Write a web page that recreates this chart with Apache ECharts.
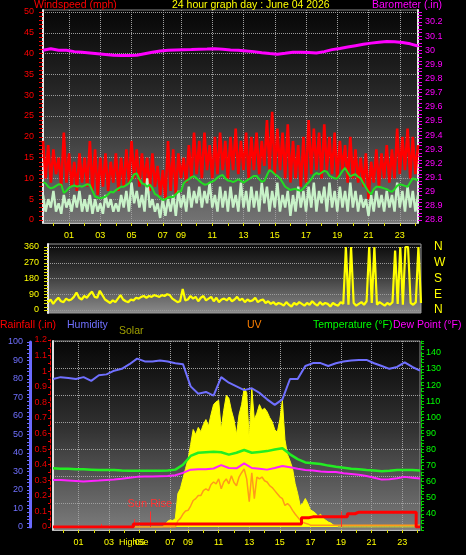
<!DOCTYPE html>
<html><head><meta charset="utf-8">
<script src="https://cdn.jsdelivr.net/npm/echarts/dist/echarts.min.js"></script>
<style>html,body{margin:0;padding:0;background:#000;}#c{width:466px;height:555px;}</style>
</head><body><div id="c"></div>
<script>
const FONT = "'Liberation Sans', Arial, sans-serif";
const dayTitle = '24 hour graph day : June 04 2026';

// 10-minute sample times (logger gap between 07:30 and 08:30)
const times = [];
function pushRange(h0, m0, h1, m1) {
  for (let t = h0 * 60 + m0; t <= h1 * 60 + m1; t += 10) {
    const h = Math.floor(t / 60) % 24, m = t % 60;
    times.push(String(h).padStart(2, '0') + ':' + String(m).padStart(2, '0'));
  }
}
pushRange(23, 20, 31, 30);
pushRange(8, 30, 24, 10);
const SLOW_STEP = 3; // slow series are logged every 3rd sample (30 min)

// ---- wind (mph), every 10 min ----
const windGust = [19,10,18,9,17,11,15,8,21,9,
16,8,14,7,16,9,15,8,19,7,
17,6,15,8,16,7,14,9,16,7,
15,8,17,9,19,10,17,8,16,9,
15,7,16,8,13,6,12,5,19,7,
17,6,16,10,15,9,18,10,21,11,
19,10,21,12,18,10,20,11,21,12,
19,10,20,12,22,11,19,12,21,10,
20,12,21,11,19,13,24,12,26,11,
22,12,21,10,23,9,19,10,18,8,
20,9,24,11,22,12,21,10,23,12,
20,11,21,10,19,12,18,9,20,10,
17,9,15,8,16,5,14,9,17,8,
16,10,18,9,17,10,22,11,20,12,
22,10,20,11,18];
const windSpeed = [6,2,5,3,7,2,4,1.5,6,3,
5,2,6,3,7,2,5,2,6,1.5,
5,2,4,1.5,6,3,5,2,4,2,
6,3,7,2,9,4,7,3,6,2,
10,3,5,2,4,0.5,5,1,5,2,
6,1,7,3,6,2,8,3,7,4,
8,3,7,4,9,3,6,2,8,3,
7,2,8,3,6,2,9,3,7,2,
8,3,7,2,9,4,8,2,7,3,
9,2,6,3,7,1,6,2,8,3,
7,2,8,3,9,2,7,4,8,2,
9,3,7,2,8,3,7,2,9,3,
7,2,6,3,5,1,6,2,7,3,
6,2,7,3,6,2,9,3,7,2,
8,3,7,2,6];
const windAvg = [9.1,8.8,8.0,7.6,7.8,8.2,8.6,8.5,6.5,7.0,
7.8,8.1,8.3,8.0,8.2,8.0,8.3,8.6,8.4,7.0,
5.6,5.4,5.2,5.4,5.6,6.2,6.8,6.6,7.2,7.6,
8.0,8.0,8.4,8.8,9.8,11.0,11.2,9.8,8.8,8.6,
8.0,8.5,7.6,6.2,5.9,5.3,4.8,5.0,5.4,5.6,
5.5,6.2,6.8,6.9,8.8,9.4,9.8,10.3,10.5,10.0,
9.4,8.9,8.5,8.6,9.0,9.2,9.6,10.2,10.6,10.8,
10.0,9.5,9.4,9.1,9.4,9.8,9.4,9.0,9.4,9.8,
10.2,10.6,10.6,9.8,9.2,9.4,10.8,12.0,11.6,11.0,
10.6,10.0,9.0,8.0,7.6,7.2,7.4,7.5,7.2,7.0,
7.6,8.4,9.0,9.8,10.8,11.3,11.0,11.4,11.8,11.6,
10.6,10.3,10.0,10.0,10.8,11.8,12.5,11.4,10.5,10.8,
11.0,10.4,10.0,8.8,7.8,6.8,6.2,7.4,8.0,8.0,
7.8,7.6,7.4,7.0,6.8,7.4,8.2,8.6,8.4,8.2,
8.0,9.0,10.0,9.8,9.5];
const windDir = [45,60,35,55,70,50,45,65,55,60,
75,100,70,60,80,70,90,105,75,70,
110,85,60,50,40,55,45,65,85,60,
50,45,60,55,70,65,75,80,70,80,
75,85,80,75,85,80,90,85,65,55,
45,50,120,55,60,80,65,75,50,70,
80,55,65,75,50,70,45,60,65,55,
70,50,60,75,55,65,45,60,50,55,
70,45,55,60,40,50,35,45,30,40,
35,25,45,30,20,40,30,45,35,25,
40,30,50,35,25,45,30,40,35,20,
40,30,25,45,35,360,30,360,40,25,
35,45,30,50,360,40,360,30,45,35,
25,40,30,45,340,35,360,30,360,360,
40,30,45,360,40];

// ---- solar (W/m2) and UV, every 10 min ----
const solar = [0,0,0,0,0,0,0,0,0,0,
0,0,0,0,0,0,0,0,0,0,
0,0,0,0,0,0,0,0,0,0,
0,0,0,0,0,0,0,0,0,0,
0,0,0,0,20,40,50,45,60,235,
270,340,410,477,580,685,650,700,670,720,
755,710,790,860,880,890,685,820,925,905,
820,755,650,790,860,975,945,615,975,755,
800,860,820,835,810,770,740,685,665,755,
890,615,510,465,410,305,235,150,165,200,
165,120,110,97,76,90,62,48,35,28,
14,7,0,0,0,0,0,0,0,0,
0,0,0,0,0,0,0,0,0,0,
0,0,0,0,0,0,0,0,0,0,
0,0,0,0,0];
const uvIndex = [0,0,0,0,0,0,0,0,0,0,
0,0,0,0,0,0,0,0,0,0,
0,0,0,0,0,0,0,0,0,0,
0,0,0,0,0,0,0,0,0,0,
0,0,0,0,0,0,0,0,0,1.0,
1.4,2.1,2.6,2.7,3.4,4.3,4.6,5.1,5.1,5.9,
6.2,5.9,6.9,7.3,7.0,7.8,6.2,7.3,7.8,7.0,
8.3,7.2,6.7,8.1,8.8,9.4,7.8,4.1,8.8,4.6,
8.1,7.8,8.1,7.5,7.3,6.7,6.4,5.9,5.4,4.9,
4.6,3.5,3.8,3.4,2.7,2.1,1.6,1.1,0.8,0.6,
0.5,0.3,0.3,0.3,0.3,0.3,0.3,0.3,0.3,0.3,
0.3,0.3,0.3,0.3,0.3,0.3,0.3,0.3,0.3,0.3,
0.3,0.3,0.3,0.3,0.3,0.3,0.3,0.3,0.3,0.3,
0.3,0.3,0.3,0.3,0.3,0.3,0.3,0.3,0.3,0.3,
0.3,0.3,0.3,0.3,0.3];

// ---- slow series, every 30 min ----
const barometer = [30.00,30.01,30.00,30.00,29.99,29.985,29.98,29.975,29.97,29.965,
29.962,29.962,29.965,29.975,29.985,29.995,30.0,30.002,30.004,30.005,
30.007,30.008,30.01,30.006,30.002,30.0,29.995,29.99,29.982,29.976,
29.972,29.978,29.986,29.986,29.984,29.98,29.99,30.004,30.012,30.022,
30.032,30.042,30.05,30.056,30.062,30.06,30.055,30.045,30.03];
const humidity = [80,81,80.5,80,81,79,82,82.5,84.5,85.5,
88,91,89.5,89.5,90,89.5,88.5,88,76,72,
73,71,81,78,76,74,75,72.5,69,66,
69,80,80,87,88.6,88.6,87,88.5,89.5,90,
90.3,90.3,88.5,87,85.5,86.5,89,86.5,84.5];
const temperature = [68.3,68,68,67.7,67.7,67.5,67.3,67.3,67.3,67,
66.8,66.8,66.8,66.8,66.8,67,67.5,70.5,76,78,
78.3,78.6,78.3,76.8,78,79.7,78,78.5,79,80,
80.8,77,74,72,71.5,71,70,69.3,68.7,68,
67.7,67.3,67,66.5,66.8,67.3,67.3,67.2,67];
const dewPoint = [61,61,60.8,60.5,60.2,60.5,60.7,61,61.3,61.8,
62.5,63,63.2,63.3,63.4,63.5,64,65.5,67.5,67.7,
67.8,68.2,70.3,68.5,68.3,71.4,68.5,68,67.5,68.5,
69.8,69,68,67.3,67,66.3,66,66,65.2,64.8,
64.3,63.5,62.5,61.3,61.5,62.2,63,62.5,62];
const rainfall = [0,0,0,0,0,0,0,0,0,0,
0,0.02,0.02,0.02,0.02,0.02,0.02,0.02,0.02,0.02,
0.02,0.02,0.02,0.02,0.02,0.02,0.02,0.02,0.02,0.02,
0.02,0.02,0.02,0.06,0.065,0.065,0.065,0.065,0.065,0.085,
0.095,0.095,0.095,0.095,0.095,0.095,0.095,0.095,0];

// event markers on the solar/rain panel
const sunRise = '05:40', sunSet = '19:00';
const otherEvents = ['02:30', '04:40'];
const at = t => times.indexOf(t);

const pair = arr => arr.map((v, i) => [i * SLOW_STEP, v]);
const isHour = (i, v) => v.endsWith(':00');
const isOddHour = (i, v) => v.endsWith(':00') && (+v.slice(0, 2)) % 2 === 1;
const grad = (a, b, c) => ({type:'linear', x:0, y:0, x2:0, y2:1,
  colorStops:[{offset:0, color:a}, {offset:0.45, color:b}, {offset:1, color:c}]});
const dotted = c => ({show:true, lineStyle:{color:c || '#9a9a9a', type:'dotted', width:1}});

const hiddenX = g => ({type:'category', gridIndex:g, data:times, boundaryGap:false, show:false});
const labeledX = g => ({type:'category', gridIndex:g, data:times, boundaryGap:false,
  axisLine:{show:true, lineStyle:{color:'#bbbbbb', width:1}},
  axisTick:{show:true, interval:isHour, length:3, lineStyle:{color:'#dddd00'}},
  axisLabel:{interval:isOddHour, formatter:v => v.slice(0, 2), color:'#ffff00', fontSize:9, fontFamily:FONT, margin:8},
  splitLine:{show:true, interval:isOddHour, lineStyle:{color:'#a0a0a0', type:'dotted', width:1}}});
const frameY = (g, pos, color, extra) => Object.assign({type:'value', gridIndex:g, position:pos, min:0, max:1,
  axisLine:{show:true, lineStyle:{color:color, width:2}}, axisTick:{show:false},
  axisLabel:{show:false}, splitLine:{show:false}}, extra || {});
const tickSet = (color, n, len) => ({
  axisTick:{show:true, length:len || 4, lineStyle:{color}},
  minorTick:{show:true, splitNumber:n, length:len || 4, lineStyle:{color}}});
const title = (text, left, top, fill) => ({type:'text', left, top,
  style:{text, fill, fontSize:10.5, fontFamily:FONT}});

const gridBase = {outerBoundsMode:'none', containLabel:false};
const option = {
  backgroundColor:'#000',
  animation:false,
  grid:[
    Object.assign({left:43, right:48, top:10, height:213, show:true, borderWidth:1, borderColor:'#8a8a8a',
      backgroundColor:grad('#060606', '#2c2c2c', '#747474')}, gridBase),           //0
    Object.assign({left:43, right:48, top:12, height:208}, gridBase),               //1
    Object.assign({left:48, right:45, top:244, height:69, show:true, borderWidth:1, borderColor:'#9a9a9a',
      backgroundColor:grad('#0a0a0a', '#3a3a3a', '#8c8c8c')}, gridBase),           //2
    Object.assign({left:48, right:45, top:247, height:63}, gridBase),               //3
    Object.assign({left:53, right:46, top:341, height:189, show:true, borderWidth:1, borderColor:'#8a8a8a',
      backgroundColor:grad('#060606', '#303030', '#7c7c7c')}, gridBase),           //4
    Object.assign({left:53, right:46, top:342, height:185}, gridBase),              //5
    Object.assign({left:53, right:46, top:340, height:187}, gridBase)               //6
  ],
  xAxis:[labeledX(0), hiddenX(1), hiddenX(2), hiddenX(3), labeledX(4), hiddenX(5), hiddenX(6)],
  yAxis:[
    frameY(0, 'left', '#e8e8e8'),                                                   //0
    Object.assign({type:'value', gridIndex:1, position:'left', min:0, max:50, interval:5,
      axisLine:{show:false},
      axisLabel:{color:'#ff0000', fontSize:9, fontFamily:FONT, margin:9},
      splitLine:dotted('#9a9a9a')}, tickSet('#ee0000', 5)),                          //1
    Object.assign({type:'value', gridIndex:1, position:'right', min:28.8, max:30.27, interval:0.1,
      axisLine:{show:false},
      axisLabel:{color:'#ff00ff', fontSize:9, fontFamily:FONT, margin:7, showMaxLabel:false,
        formatter:v => String(Math.round(v * 10) / 10)},
      splitLine:{show:false}}, tickSet('#ee00ee', 4)),                               //2
    frameY(0, 'right', '#e8e8e8'),                                                  //3
    frameY(2, 'left', '#e8e8e8'),                                                   //4
    Object.assign({type:'value', gridIndex:3, position:'left', min:0, max:360, interval:90,
      axisLine:{show:false},
      axisLabel:{color:'#ffff00', fontSize:9, fontFamily:FONT, margin:9},
      splitLine:dotted('#9a9a9a')}, tickSet('#dddd00', 5)),                          //5
    {type:'value', gridIndex:3, position:'right', min:0, max:360, interval:90,
      axisLine:{show:false}, axisTick:{show:false}, splitLine:{show:false},
      axisLabel:{color:'#ffff00', fontSize:12, fontFamily:FONT, margin:13,
        formatter:v => ({0:'N', 90:'E', 180:'S', 270:'W', 360:'N'})[v]}},            //6
    frameY(4, 'left', '#e0e0e0', {min:0, max:7, interval:1,
      splitLine:{show:true, lineStyle:{color:'#a0a0a0', type:'dotted', width:1}}}),   //7
    Object.assign({type:'value', gridIndex:4, position:'right', min:30, max:147.4, interval:10, offset:1,
      axisLine:{show:true, lineStyle:{color:'#00dd00', type:'dashed', width:1}},
      axisLabel:{color:'#00ff00', fontSize:9, fontFamily:FONT, margin:5, showMinLabel:false, showMaxLabel:false},
      splitLine:{show:false}}, tickSet('#00cc00', 5, 3)),                            //8
    Object.assign({type:'value', gridIndex:5, position:'left', offset:23, min:0, max:100, interval:10,
      axisLine:{show:true, lineStyle:{color:'#6a6aff', width:3}},
      axisLabel:{color:'#7070ff', fontSize:9, fontFamily:FONT, margin:7},
      splitLine:{show:false}}, tickSet('#6a6aff', 5, 3)),                            //9
    {type:'value', gridIndex:5, min:0, max:1300, show:false},                       //10 solar
    {type:'value', gridIndex:5, min:0, max:30, show:false},                         //11 uv
    Object.assign({type:'value', gridIndex:6, position:'left', offset:3, min:0, max:1.2, interval:0.1,
      axisLine:{show:true, lineStyle:{color:'#ee0000', type:'dashed', width:1}},
      axisLabel:{color:'#ee0000', fontSize:9, fontFamily:FONT, margin:3,
        formatter:v => String(Math.round(v * 10) / 10)},
      splitLine:{show:false}}, tickSet('#ee0000', 2, 2))                             //12
  ],
  series:[
    {type:'line', name:'Gust', xAxisIndex:1, yAxisIndex:1, data:windGust, symbol:'none',
      lineStyle:{color:'#ff0000', width:2.6}, z:2},
    {type:'line', name:'Speed', xAxisIndex:1, yAxisIndex:1, data:windSpeed, symbol:'none',
      lineStyle:{color:'#c8f2c8', width:2.4}, z:3},
    {type:'line', name:'Average', xAxisIndex:1, yAxisIndex:1, data:windAvg, symbol:'none',
      lineStyle:{color:'#22dd22', width:2}, z:4},
    {type:'line', name:'Barometer', xAxisIndex:1, yAxisIndex:2, data:pair(barometer), symbol:'none',
      lineStyle:{color:'#ff00ff', width:3}, z:5},
    {type:'line', name:'Direction', xAxisIndex:3, yAxisIndex:5, data:windDir, symbol:'none',
      lineStyle:{color:'#ffff00', width:2.2}, z:3},
    {type:'line', name:'Solar', xAxisIndex:5, yAxisIndex:10, data:solar, symbol:'none',
      lineStyle:{color:'#ffff00', width:1}, areaStyle:{color:'#ffff00', opacity:1}, z:2},
    {type:'line', name:'UV', xAxisIndex:5, yAxisIndex:11, data:uvIndex, symbol:'none',
      lineStyle:{color:'#ff9a1a', width:1.5}, z:3},
    {type:'line', name:'Humidity', xAxisIndex:5, yAxisIndex:9, data:pair(humidity), symbol:'none',
      lineStyle:{color:'#7070ff', width:2}, z:4},
    {type:'line', name:'Temperature', xAxisIndex:4, yAxisIndex:8, data:pair(temperature), symbol:'none',
      lineStyle:{color:'#22ee22', width:2.5}, z:5},
    {type:'line', name:'Dew Point', xAxisIndex:4, yAxisIndex:8, data:pair(dewPoint), symbol:'none',
      lineStyle:{color:'#ff22ff', width:2}, z:5},
    {type:'line', name:'Rainfall', xAxisIndex:6, yAxisIndex:12, data:pair(rainfall), symbol:'none',
      step:'middle', lineStyle:{color:'#ff0000', width:3}, z:6,
      markLine:{symbol:'none', silent:true, animation:false,
        lineStyle:{color:'#ff3030', width:1, type:'solid'}, label:{show:false},
        data:[
          [{coord:[at(sunRise), 0], label:{show:true, formatter:'Sun Rise', position:'end', distance:2,
              color:'#ff3333', fontSize:11, fontFamily:FONT}}, {coord:[at(sunRise), 0.1]}],
          [{coord:[at(sunSet), 0]}, {coord:[at(sunSet), 0.1]}],
          [{coord:[at(otherEvents[0]), 0]}, {coord:[at(otherEvents[0]), 0.02]}],
          [{coord:[at(otherEvents[1]), 0]}, {coord:[at(otherEvents[1]), 0.05]}]
        ]}}
  ],
  graphic:[
    title('Windspeed (mph)', 34, 0, '#ff0000'),
    title(dayTitle, 172, 0, '#ffff00'),
    title('Barometer (.in)', 372, 0, '#ff00ff'),
    title('Rainfall (.in)', 0, 320, '#ff0000'),
    title('Humidity', 67, 320, '#7070ff'),
    title('Solar', 119, 326, '#a0a000'),
    title('UV', 247, 320, '#ff8000'),
    title('Temperature (°F)', 313, 320, '#00ff00'),
    title('Dew Point (°F)', 393, 320, '#ff00ff'),
    {type:'text', left:119, top:538, style:{text:'HighSe', fill:'#ffff00', fontSize:9, fontFamily:FONT}}
  ]
};
const chart = echarts.init(document.getElementById('c'), null, {renderer:'canvas'});
chart.setOption(option);
</script></body></html>
